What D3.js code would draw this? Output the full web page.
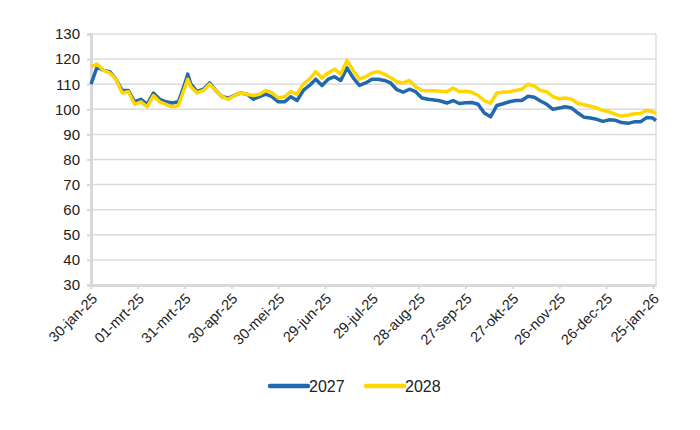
<!DOCTYPE html>
<html>
<head>
<meta charset="utf-8">
<script src="https://cdn.jsdelivr.net/npm/d3@7"></script>
<style>
  body { margin: 0; background: #fff; }
  svg { font-family: "Liberation Sans", Arial, sans-serif; }
</style>
</head>
<body>
<div id="chart"></div>
<script>
// data
var dates = [
  "2025-01-30","2025-02-03","2025-02-07","2025-02-11","2025-02-15","2025-02-19","2025-02-23","2025-02-27",
  "2025-03-03","2025-03-07","2025-03-11","2025-03-15","2025-03-19","2025-03-23","2025-03-27","2025-03-31",
  "2025-04-02","2025-04-04","2025-04-08","2025-04-12","2025-04-16","2025-04-20","2025-04-24","2025-04-28",
  "2025-05-02","2025-05-06","2025-05-10","2025-05-14","2025-05-18","2025-05-22","2025-05-26","2025-05-30",
  "2025-06-03","2025-06-07","2025-06-11","2025-06-15","2025-06-19","2025-06-23","2025-06-27","2025-07-01",
  "2025-07-05","2025-07-09","2025-07-13","2025-07-17","2025-07-21","2025-07-25","2025-07-29","2025-08-02",
  "2025-08-06","2025-08-10","2025-08-14","2025-08-18","2025-08-22","2025-08-26","2025-08-30","2025-09-03",
  "2025-09-07","2025-09-11","2025-09-15","2025-09-19","2025-09-23","2025-09-27","2025-10-01","2025-10-05",
  "2025-10-09","2025-10-13","2025-10-17","2025-10-21","2025-10-25","2025-10-29","2025-11-02","2025-11-06",
  "2025-11-10","2025-11-14","2025-11-18","2025-11-22","2025-11-26","2025-11-30","2025-12-04","2025-12-08",
  "2025-12-12","2025-12-16","2025-12-20","2025-12-24","2025-12-28","2026-01-01","2026-01-05","2026-01-09",
  "2026-01-13","2026-01-17","2026-01-21","2026-01-25","2026-01-27"
];
var s2027 = [
  110, 117, 115.5, 115, 112, 107.5, 107.5, 103,
  104, 102, 106.5, 104, 103, 102.5, 103, 110,
  114, 110, 107, 108, 110.5, 107.5, 105, 104.5,
  105.5, 106.5, 106, 104, 105, 106, 105, 103,
  103, 105, 103.5, 107.5, 109.5, 112, 109.5, 112,
  113, 111.5, 116.5, 112.5, 109.5, 110.5, 112, 112,
  111.5, 110.5, 107.8, 106.8, 108, 107, 104.5, 104,
  103.7, 103.3, 102.5, 103.5, 102.3, 102.6, 102.7, 102,
  98.5, 97, 101.5, 102.2, 103, 103.5, 103.5, 105.2,
  104.8, 103.3, 102, 100, 100.5, 101, 100.5, 98.5,
  96.8, 96.5, 96, 95.2, 95.8, 95.6, 94.7, 94.4,
  95, 95, 96.7, 96.5, 95.5
];
var s2028 = [
  117, 118, 115.5, 114.5, 112, 106.5, 107, 102,
  103, 101, 105.5, 103, 102, 101, 101.5, 108.5,
  112, 109, 106.5, 107.5, 110, 107.5, 105, 104,
  105.5, 106.5, 106, 105.5, 106, 107.5, 106.5, 104.5,
  105, 107, 106, 110, 112, 115, 112.5, 114.5,
  116, 114, 119.5, 115.5, 112, 113, 114.5, 115,
  114, 112.6, 111, 110.5, 111.5, 109, 107.5, 107.4,
  107.4, 107.2, 107, 108.5, 107, 107.2, 106.8, 105.5,
  103.5, 102.5, 106.5, 106.8, 107, 107.5, 108, 110,
  109.3, 107.5, 107, 105, 104.2, 104.5, 104, 102.3,
  101.8, 101.2, 100.5, 99.6, 99, 98, 97.3, 97.6,
  98.2, 98.3, 99.6, 99, 98.3
];
var yTicks = [30, 40, 50, 60, 70, 80, 90, 100, 110, 120, 130];
var xTickDates = [
  "2025-01-30","2025-03-01","2025-03-31","2025-04-30","2025-05-30","2025-06-29","2025-07-29",
  "2025-08-28","2025-09-27","2025-10-27","2025-11-26","2025-12-26","2026-01-25"
];
var monthNames = ["jan","feb","mrt","apr","mei","jun","jul","aug","sep","okt","nov","dec"];

var series = [
  {name: "2027", values: s2027, color: "#2169ae"},
  {name: "2028", values: s2028, color: "#ffd600"}
];

var width = 700, height = 430;
var margin = {top: 34, right: 44, bottom: 145, left: 91};
var parse = d3.timeParse("%Y-%m-%d");

var svg = d3.select("#chart").append("svg")
    .attr("width", width)
    .attr("height", height);

var x = d3.scaleTime()
    .domain([parse("2025-01-30"), parse("2026-01-27")])
    .range([margin.left, width - margin.right]);
var y = d3.scaleLinear()
    .domain([30, 130])
    .range([height - margin.bottom, margin.top]);

// gridlines
svg.append("g")
  .selectAll("line")
  .data(yTicks)
  .join("line")
    .attr("x1", margin.left)
    .attr("x2", width - margin.right)
    .attr("y1", d => y(d))
    .attr("y2", d => y(d))
    .attr("stroke", "#dcdcdc")
    .attr("stroke-width", 1.5);

// right border
svg.append("line")
    .attr("x1", width - margin.right).attr("x2", width - margin.right)
    .attr("y1", y(130)).attr("y2", y(30))
    .attr("stroke", "#dcdcdc").attr("stroke-width", 1.5);

// y axis
var yAxis = svg.append("g")
    .attr("transform", "translate(" + margin.left + ",0)")
    .call(d3.axisLeft(y).tickValues(yTicks).tickSize(4).tickPadding(7));
yAxis.select(".domain").attr("stroke", "#d9d9d9").attr("stroke-width", 3);
yAxis.selectAll(".tick line").attr("stroke", "#d9d9d9").attr("stroke-width", 2);
yAxis.selectAll(".tick text").attr("fill", "#222").style("font-size", "15px");

// x axis
var fmt = function(d) {
  return d3.timeFormat("%d")(d) + "-" + monthNames[d.getMonth()] + "-" + d3.timeFormat("%y")(d);
};
var xAxis = svg.append("g")
    .attr("transform", "translate(0," + (height - margin.bottom) + ")")
    .call(d3.axisBottom(x).tickValues(xTickDates.map(parse)).tickFormat(fmt).tickSize(4).tickSizeOuter(0));
xAxis.select(".domain").attr("stroke", "#d9d9d9").attr("stroke-width", 3);
xAxis.selectAll(".tick line").attr("stroke", "#d9d9d9").attr("stroke-width", 2);
xAxis.selectAll(".tick text")
    .attr("fill", "#222")
    .style("font-size", "14.5px")
    .attr("text-anchor", "end")
    .attr("x", 0)
    .attr("y", 0)
    .attr("dy", "0.35em")
    .attr("transform", "translate(3,11) rotate(-45)");

// lines
var line = d3.line()
    .x((d, i) => x(parse(dates[i])))
    .y(d => y(d));

svg.append("g")
  .selectAll("path")
  .data(series)
  .join("path")
    .attr("d", d => line(d.values))
    .attr("fill", "none")
    .attr("stroke", d => d.color)
    .attr("stroke-width", 3.5)
    .attr("stroke-linejoin", "round");

// legend
var legend = svg.append("g")
    .attr("transform", "translate(270,386)");
var item = legend.selectAll("g")
  .data(series)
  .join("g")
    .attr("transform", (d, i) => "translate(" + (i * 96) + ",0)");
item.append("line")
    .attr("x1", 0).attr("x2", 38)
    .attr("stroke", d => d.color)
    .attr("stroke-width", 4.5)
    .attr("stroke-linecap", "round");
item.append("text")
    .attr("x", 39)
    .attr("dy", "0.35em")
    .attr("fill", "#222")
    .style("font-size", "16px")
    .text(d => d.name);
</script>
</body>
</html>
